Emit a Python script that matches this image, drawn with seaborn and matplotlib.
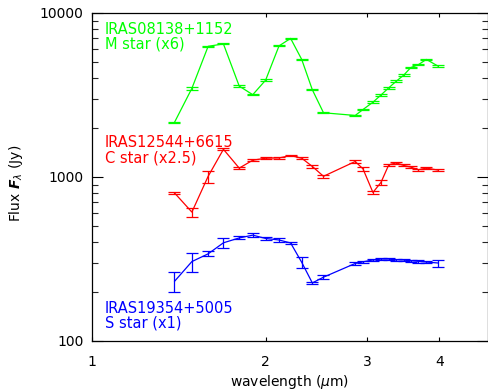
import numpy as np
import pandas as pd
import matplotlib
matplotlib.use("Agg")
import matplotlib.pyplot as plt
import seaborn as sns

# wavelengths (micron), shared by all three stars
wavelength = [1.39, 1.49, 1.59, 1.69, 1.80, 1.90, 2.00, 2.11, 2.21, 2.31, 2.41, 2.52,
              2.86, 2.95, 3.07, 3.17, 3.27, 3.37, 3.47, 3.57, 3.68, 3.80, 3.98]

# M star IRAS08138+1152 (x6)
m_flux = [2153, 3471, 6266, 6477, 3583, 3176, 3894, 6301, 7000, 5211, 3404, 2464,
          2373, 2578, 2858, 3162, 3499, 3840, 4174, 4645, 4841, 5211, 4748]
m_err = [25, 60, 50, 50, 35, 30, 40, 50, 60, 50, 35, 25,
         25, 30, 30, 35, 35, 40, 45, 50, 50, 55, 50]

# C star IRAS12544+6615 (x2.5)
c_flux = [800, 611, 1010, 1475, 1133, 1266, 1302, 1307, 1351, 1302, 1160, 1010,
          1243, 1122, 805, 927, 1186, 1219, 1176, 1149, 1107, 1133, 1102]
c_err = [15, 40, 85, 20, 15, 15, 15, 15, 15, 15, 18, 18,
         18, 28, 20, 28, 16, 16, 16, 16, 16, 16, 16]

# S star IRAS19354+5005 (x1)
s_flux = [231, 305, 340, 397, 425, 442, 422, 413, 396, 302, 226, 245,
          297, 304, 312, 316, 316, 313, 312, 309, 306, 303, 299]
s_err = [32, 40, 12, 28, 9, 11, 8, 9, 5, 24, 4, 7,
         5, 5, 5, 5, 5, 5, 5, 5, 5, 5, 15]

labels = [("IRAS08138+1152\nM star (x6)", m_flux, m_err, "#00ff00", 0.973),
          ("IRAS12544+6615\nC star (x2.5)", c_flux, c_err, "#ff0000", 0.628),
          ("IRAS19354+5005\nS star (x1)", s_flux, s_err, "#0000ff", 0.122)]

sns.set_theme(style="ticks")
plt.rcParams['font.family'] = ['DejaVu Sans']
plt.rcParams['mathtext.fontset'] = 'dejavusans'

fig = plt.figure(figsize=(4.89, 3.92), dpi=100)
ax = fig.add_axes([92/489, 1-341/392, 396/489, 328/392])

for text, flux, err, col, ty in labels:
    df = pd.DataFrame({"wavelength": wavelength, "flux": flux})
    sns.lineplot(data=df, x="wavelength", y="flux", ax=ax, color=col,
                 linewidth=0.9, sort=False, estimator=None)
    ax.errorbar(wavelength, flux, yerr=err, fmt='none', ecolor=col,
                elinewidth=0.9, capsize=4, capthick=0.9)
    ax.text(0.033, ty, text, transform=ax.transAxes, color=col, fontsize=10.5,
            va='top', ha='left', linespacing=1.0)

ax.set_xscale('log')
ax.set_yscale('log')
ax.set_xlim(1, 4.86)
ax.set_ylim(100, 10000)

ax.xaxis.set_major_locator(matplotlib.ticker.FixedLocator([1, 2, 3, 4]))
ax.xaxis.set_minor_locator(matplotlib.ticker.NullLocator())
ax.xaxis.set_major_formatter(matplotlib.ticker.FixedFormatter(["1", "2", "3", "4"]))
ax.yaxis.set_major_locator(matplotlib.ticker.FixedLocator([100, 1000, 10000]))
ax.yaxis.set_major_formatter(matplotlib.ticker.FixedFormatter(["100", "1000", "10000"]))
ax.yaxis.set_minor_locator(matplotlib.ticker.LogLocator(base=10, subs=np.arange(2, 10)))
ax.yaxis.set_minor_formatter(matplotlib.ticker.NullFormatter())

ax.tick_params(axis='x', which='major', direction='in', length=3, width=0.8,
               top=True, bottom=True, labelsize=10, pad=10, colors='black')
ax.tick_params(axis='y', which='major', direction='in', length=8, width=0.8,
               left=True, right=True, labelsize=10, pad=6, colors='black')
ax.tick_params(axis='y', which='minor', direction='in', length=4, width=0.8,
               left=True, right=True)

for s in ax.spines.values():
    s.set_color('black')
    s.set_linewidth(0.9)
    s.set_visible(True)

ax.set_xlabel(r"wavelength ($\mu$m)", fontsize=10, color='black', va='top')
ax.set_ylabel(r"Flux $\mathbfit{F}_\lambda$ (Jy)", fontsize=10, color='black')
ax.xaxis.set_label_coords(0.5, -0.098)
ax.yaxis.set_label_coords(-0.17, 0.48)

fig.savefig("out.png", dpi=100)
